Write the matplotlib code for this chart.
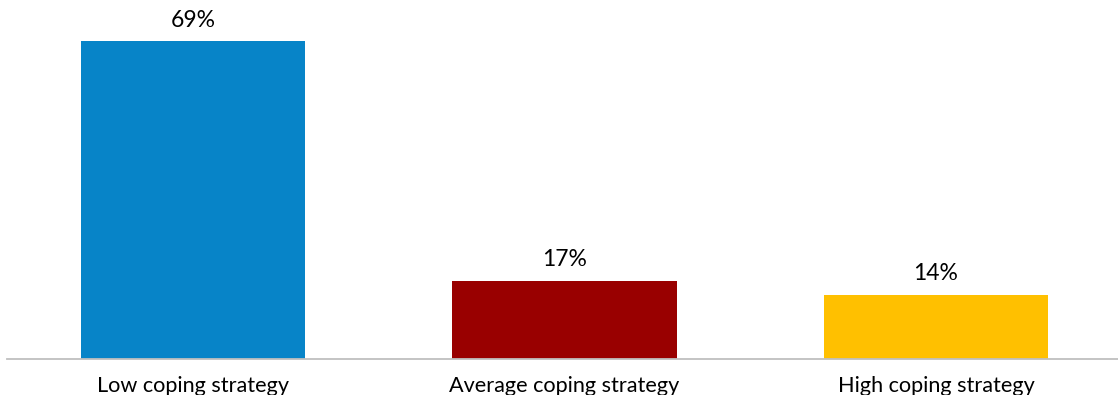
import matplotlib
matplotlib.use("Agg")
import matplotlib.pyplot as plt

categories = ["Low coping strategy", "Average coping strategy", "High coping strategy"]
values = [69, 17, 14]
colors = ["#0784C8", "#990000", "#FFC000"]

plt.rcParams['font.family'] = ['Lato', 'DejaVu Sans']

W, H = 1118, 395
fig = plt.figure(figsize=(W/100, H/100), dpi=100)
ax = fig.add_axes([7.25/W, 1-359/H, 1114.5/W, 359/H])
x = range(len(categories))
bars = ax.bar(x, values, width=0.603, color=colors)
ax.set_xlim(-0.5, 2.5)
ax.set_ylim(0, 78)
for xi, v in zip(x, values):
    ax.text(xi, v + 2.3, f"{v}%", ha="center", va="bottom", fontsize=16.5, color="#000000")
for s in ["top", "right", "left"]:
    ax.spines[s].set_visible(False)
ax.spines["bottom"].set_color("#BFBFBF")
ax.spines["bottom"].set_linewidth(1.3)
ax.set_yticks([])
ax.set_xticks(list(x))
ax.set_xticklabels(categories, fontsize=15.6)
ax.tick_params(axis="x", length=0, pad=12.5)
fig.savefig("out.png", dpi=100)
